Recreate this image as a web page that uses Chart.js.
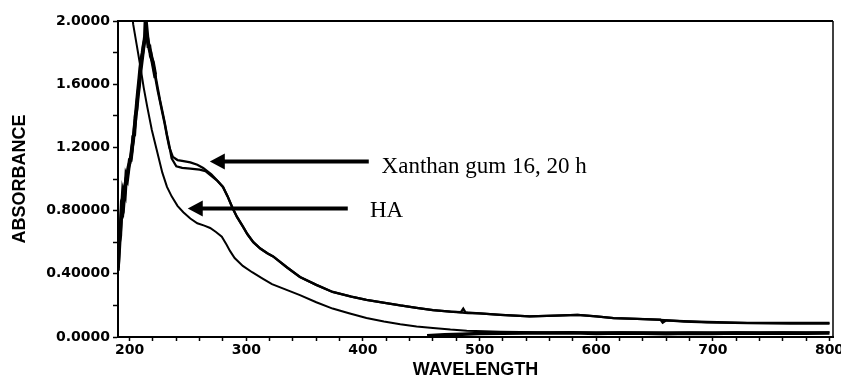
<!DOCTYPE html>
<html><head><meta charset="utf-8">
<script src="https://cdn.jsdelivr.net/npm/chart.js@4/dist/chart.umd.min.js"></script>
<style>html,body{margin:0;padding:0;background:#fff}canvas{display:block}</style>
</head><body>
<canvas id="c" width="841" height="380"></canvas>
<script>
// ---- data ----
const xanthan16Wl  = [190,191,192,193,194,195,196,197,198,199,200,201,202,203,204,205,206,207,208,209,210,211,212,213,214,215,216,217,218,219,220,222,224,226,228,230,232,234,237,241,245,252,258,263,270,275,280,284,288,292,297,301,306,312,318,323,335,346,360,374,390,403,420,432,446,460,475,484,486,488,500,518,543,565,584,600,615,635,655,657,660,675,695,730,766,800];
const xanthan16Abs = [0.44,0.55,0.68,0.78,0.90,0.86,0.95,1.00,1.03,1.08,1.10,1.14,1.20,1.24,1.32,1.38,1.47,1.55,1.62,1.70,1.76,1.80,1.85,1.88,1.91,1.90,1.86,1.82,1.80,1.76,1.72,1.64,1.56,1.49,1.42,1.35,1.27,1.20,1.14,1.12,1.115,1.105,1.09,1.07,1.03,0.99,0.95,0.89,0.82,0.76,0.70,0.65,0.60,0.56,0.53,0.51,0.44,0.38,0.33,0.285,0.255,0.235,0.215,0.20,0.185,0.17,0.16,0.158,0.18,0.155,0.15,0.14,0.13,0.135,0.14,0.13,0.12,0.115,0.11,0.09,0.105,0.10,0.095,0.09,0.09,0.09];
const xanthan20Wl  = [190,191,192,193,194,195,196,197,198,199,200,201,202,203,204,205,206,207,208,209,210,211,212,213,213.5,214,215,216,217,218,220,222,224,226,228,230,232,234,236,240,245,252,260,265,270,275,280,284,288,292,297,301,306,312,318,323,335,346,360,374,390,403,420,432,446,460,475,490,500,518,543,565,584,600,615,635,655,675,695,730,766,800];
const xanthan20Abs = [0.42,0.60,0.64,0.82,0.80,0.92,0.90,1.02,1.00,1.06,1.12,1.12,1.18,1.27,1.28,1.40,1.44,1.52,1.58,1.66,1.72,1.78,1.84,1.90,2.00,1.88,1.92,1.84,1.84,1.78,1.74,1.66,1.58,1.50,1.43,1.36,1.28,1.21,1.13,1.08,1.07,1.065,1.06,1.05,1.02,0.99,0.95,0.89,0.82,0.76,0.70,0.65,0.60,0.56,0.53,0.51,0.44,0.38,0.33,0.285,0.255,0.235,0.215,0.20,0.185,0.17,0.16,0.152,0.15,0.14,0.13,0.135,0.14,0.13,0.12,0.115,0.108,0.098,0.093,0.088,0.085,0.085];
const haWl  = [199,203,206,209,212,215,219,223,228,232,236,241,246,252,258,264,269,274,279,283,286,290,297,305,314,322,334,346,360,374,388,403,418,432,446,460,475,489,504,518,535,550,600,650,700,750,800];
const haAbs = [2.3,1.98,1.85,1.72,1.58,1.46,1.31,1.19,1.04,0.95,0.89,0.83,0.79,0.75,0.72,0.705,0.69,0.665,0.635,0.585,0.545,0.50,0.45,0.41,0.37,0.335,0.30,0.265,0.22,0.18,0.15,0.12,0.098,0.08,0.067,0.057,0.047,0.04,0.036,0.033,0.031,0.03,0.03,0.03,0.03,0.03,0.03];
const baseWl  = [455,470,485,500,520,540,560,580,600,620,640,660,680,700,720,740,760,780,800];
const baseAbs = [0.008,0.014,0.018,0.022,0.024,0.026,0.025,0.027,0.022,0.026,0.024,0.02,0.024,0.022,0.025,0.023,0.026,0.024,0.025];

const xMajorTicks = [200,300,400,500,600,700,800];
const xTickLabels = ['200','300','400','500','600','700','800'];
const yMajorTicks = [0,0.4,0.8,1.2,1.6,2.0];
const yTickLabels = ['0.0000','0.40000','0.80000','1.2000','1.6000','2.0000'];

const annotations = [
  {text:'Xanthan gum 16, 20 h', tipX:268.7, tailX:405, y:1.111, textX:416, textY:1.041},
  {text:'HA', tipX:249.8, tailX:387, y:0.813, textX:406, textY:0.762}
];

const toPts = (xs, ys) => xs.map((x, i) => ({x, y: ys[i]}));

const frame = {
  id:'frame',
  afterDatasetsDraw(chart){
    const {ctx, chartArea:a, scales} = chart;
    ctx.save();
    ctx.strokeStyle = '#000';
    ctx.lineWidth = 2;
    ctx.beginPath(); ctx.moveTo(a.left, a.top); ctx.lineTo(a.right, a.top); ctx.stroke();
    ctx.lineWidth = 1.5;
    ctx.beginPath(); ctx.moveTo(a.right, a.top); ctx.lineTo(a.right, a.bottom); ctx.stroke();
    const xs = scales.x, ys = scales.y;
    annotations.forEach(an => {
      const tx = xs.getPixelForValue(an.tipX), ex = xs.getPixelForValue(an.tailX), yy = ys.getPixelForValue(an.y);
      ctx.lineWidth = 4; ctx.lineCap = 'butt';
      ctx.beginPath(); ctx.moveTo(tx + 10, yy); ctx.lineTo(ex, yy); ctx.stroke();
      ctx.fillStyle = '#000';
      ctx.beginPath(); ctx.moveTo(tx, yy); ctx.lineTo(tx + 15, yy - 8); ctx.lineTo(tx + 15, yy + 8); ctx.closePath(); ctx.fill();
      ctx.font = '23px "Liberation Serif", "Times New Roman", serif';
      ctx.textBaseline = 'alphabetic'; ctx.textAlign = 'left';
      ctx.fillText(an.text, xs.getPixelForValue(an.textX), ys.getPixelForValue(an.textY));
    });
    ctx.restore();
  }
};

const tickFont = {family:'"DejaVu Sans", sans-serif', size:14, weight:'bold'};
const titleFont = {family:'"Liberation Sans", Arial, sans-serif', size:18, weight:'bold', lineHeight:1};
const noisyWidth = c => (c.p0.parsed.x < 222 ? 3.6 : 2.3);

new Chart(document.getElementById('c'), {
  type:'scatter',
  data:{datasets:[
    {label:'Xanthan gum 16 h', data:toPts(xanthan16Wl, xanthan16Abs), borderColor:'#000', borderWidth:2.3, segment:{borderWidth:noisyWidth}},
    {label:'Xanthan gum 20 h', data:toPts(xanthan20Wl, xanthan20Abs), borderColor:'#000', borderWidth:2.3, segment:{borderWidth:noisyWidth}},
    {label:'HA', data:toPts(haWl, haAbs), borderColor:'#000', borderWidth:2},
    {label:'baseline', data:toPts(baseWl, baseAbs), borderColor:'#000', borderWidth:3.5}
  ].map(d => Object.assign(d, {showLine:true, pointRadius:0, tension:0, fill:false}))},
  options:{
    responsive:false, animation:false,
    layout:{padding:{top:21, right:8, left:0, bottom:0}},
    plugins:{legend:{display:false}, tooltip:{enabled:false}},
    scales:{
      x:{type:'linear', min:190, max:803,
        afterBuildTicks(s){ const t=[]; for(let v=200; v<=800; v+=20) t.push({value:v}); s.ticks=t; },
        afterFit(s){ s.height = 43; s.paddingLeft = 0; s.paddingRight = 0; },
        ticks:{autoSkip:false, maxRotation:0, color:'#000', font:tickFont, padding:1,
          callback(v){ const i = xMajorTicks.indexOf(Math.round(v)); return i >= 0 ? xTickLabels[i] : ''; }},
        grid:{drawOnChartArea:false, tickLength:4, tickColor:'#000', tickWidth:1.5},
        border:{color:'#000', width:2},
        title:{display:true, text:'WAVELENGTH', color:'#000', font:titleFont, padding:{top:0,bottom:1}}
      },
      y:{type:'linear', min:0, max:2,
        afterBuildTicks(s){ const t=[]; for(let k=0; k<=10; k++) t.push({value:k/5}); s.ticks=t; },
        afterFit(s){ s.width = 118; s.paddingTop = 0; s.paddingBottom = 0; },
        ticks:{autoSkip:false, color:'#000', font:tickFont, padding:3,
          callback(v){ const i = yMajorTicks.findIndex(m => Math.abs(m - v) < 1e-6); return i >= 0 ? yTickLabels[i] : ''; }},
        grid:{drawOnChartArea:false, tickLength:5, tickColor:'#000', tickWidth:1.5},
        border:{color:'#000', width:2},
        title:{display:true, text:'ABSORBANCE', color:'#000', font:titleFont, padding:{top:11,bottom:0}}
      }
    }
  },
  plugins:[frame]
});
</script>
</body></html>
